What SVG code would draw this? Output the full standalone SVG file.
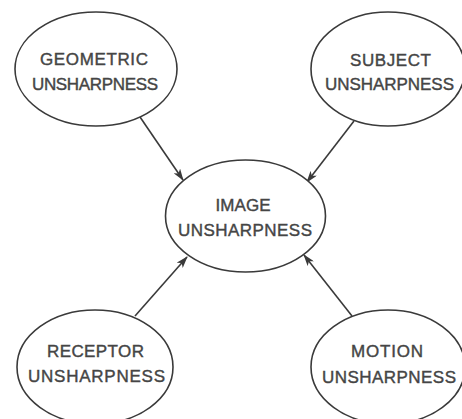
<svg xmlns="http://www.w3.org/2000/svg" width="462" height="419" viewBox="0 0 462 419">
<style>
.n ellipse{fill:#fff;stroke:#3a3a3a;stroke-width:1.6}
.n text{font-family:"Liberation Sans",Arial,sans-serif;font-size:17px;fill:#454545;text-anchor:middle;stroke:#454545;stroke-width:0.4}
.c line{stroke:#3a3a3a;stroke-width:1.6;marker-end:url(#ah)}
</style>
<defs>
<marker id="ah" viewBox="0 0 12 8" refX="11" refY="4" markerWidth="12" markerHeight="8" markerUnits="userSpaceOnUse" orient="auto">
<path d="M0,0 L12,4 L0,8 L3,4 Z" fill="#3a3a3a"/>
</marker>
</defs>
<rect width="462" height="419" fill="#fff"/>
<g class="c">
<line x1="140" y1="117" x2="183" y2="180"/>
<line x1="354" y1="121" x2="307" y2="182"/>
<line x1="135" y1="316" x2="187" y2="257"/>
<line x1="352" y1="316" x2="304" y2="255"/>
</g>
<g class="n" id="geometric">
<ellipse cx="96" cy="69" rx="81" ry="57"/>
<text x="94" y="65" textLength="108">GEOMETRIC</text>
<text x="95" y="90" textLength="126">UNSHARPNESS</text>
</g>
<g class="n" id="subject">
<ellipse cx="388" cy="69" rx="77" ry="57"/>
<text x="390.5" y="66" textLength="81">SUBJECT</text>
<text x="389.5" y="90" textLength="129">UNSHARPNESS</text>
</g>
<g class="n" id="image">
<ellipse cx="245.5" cy="216" rx="80" ry="56"/>
<text x="243" y="211" textLength="55">IMAGE</text>
<text x="245" y="236" textLength="134">UNSHARPNESS</text>
</g>
<g class="n" id="receptor">
<ellipse cx="95" cy="367" rx="78" ry="57"/>
<text x="95.5" y="357" textLength="97">RECEPTOR</text>
<text x="96.5" y="382" textLength="137">UNSHARPNESS</text>
</g>
<g class="n" id="motion">
<ellipse cx="388" cy="367" rx="77" ry="57"/>
<text x="387" y="357" textLength="72">MOTION</text>
<text x="389" y="383" textLength="134">UNSHARPNESS</text>
</g>
</svg>
